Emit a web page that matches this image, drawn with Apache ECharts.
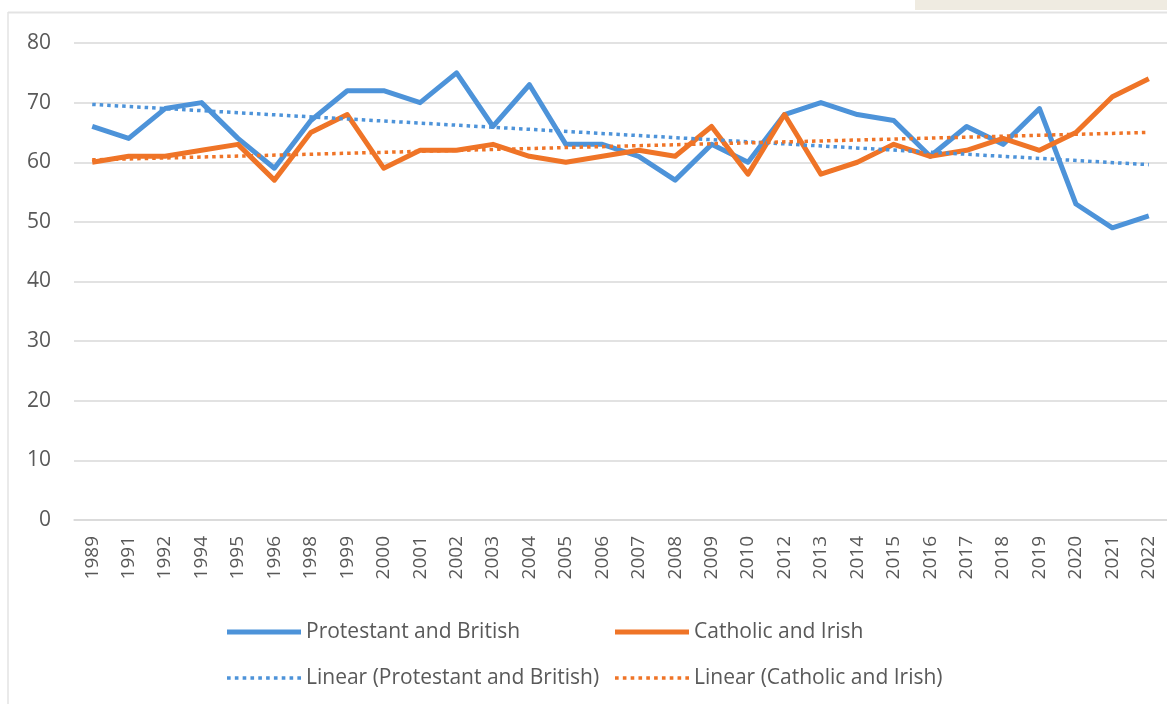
<!DOCTYPE html>
<html>
<head>
<meta charset="utf-8">
<script src="https://cdn.jsdelivr.net/npm/echarts@6/dist/echarts.min.js"></script>
<style>
  html, body { margin: 0; padding: 0; background: #fff; }
  #chart { width: 1167px; height: 704px; }
</style>
</head>
<body>
<div id="chart"></div>
<script>
const years = ["1989", "1991", "1992", "1994", "1995", "1996", "1998", "1999", "2000", "2001",
  "2002", "2003", "2004", "2005", "2006", "2007", "2008", "2009", "2010", "2012",
  "2013", "2014", "2015", "2016", "2017", "2018", "2019", "2020", "2021", "2022"];

const protestant = [66, 64, 69, 70, 64, 59, 67, 72, 72, 70,
  75, 66, 73, 63, 63, 61, 57, 63, 60, 68,
  70, 68, 67, 61, 66, 63, 69, 53, 49, 51];

const catholic = [60, 61, 61, 62, 63, 57, 65, 68, 59, 62,
  62, 63, 61, 60, 61, 62, 61, 66, 58, 68,
  58, 60, 63, 61, 62, 64, 62, 65, 71, 74];

// trendline end values (first year, last year)
const protestantTrend = [69.7, 59.6];
const catholicTrend = [60.4, 65.0];

const yTicks = { min: 0, max: 80, interval: 10 };

const blue = "#4d93d9";
const orange = "#ef7427";
const textColor = "#595959";

const endsOnly = (ends) => years.map((_, i) =>
  i === 0 ? ends[0] : (i === years.length - 1 ? ends[1] : null));

// legend swatches: a thick bar and a row of small dots
const solidIcon = "path://M0,0h74v5h-74z";
let dots = "";
for (let i = 0; i < 10; i++) dots += "M" + (i * 7.5) + ",0h3.5v3.5h-3.5z";
const dottedIcon = "path://" + dots + "M0,0h0.01v0h-0.01z";

const chart = echarts.init(document.getElementById("chart"));

let xAxis = {
  type: "category",
  data: years,
  boundaryGap: true,
  axisLine: { show: true, lineStyle: { color: "#d9d9d9", width: 1.5 } },
  axisTick: { show: false },
  axisLabel: {
    rotate: 90,
    margin: 16,
    interval: 0,
    color: textColor,
    fontFamily: "Open Sans",
    fontSize: 19,
  },
};

let yAxis = {
  type: "value",
  min: yTicks.min,
  max: yTicks.max,
  interval: yTicks.interval,
  axisLine: { show: false },
  axisTick: { show: false },
  axisLabel: {
    margin: 23,
    color: textColor,
    fontFamily: "Open Sans",
    fontSize: 21,
  },
  splitLine: { show: true, lineStyle: { color: "#d9d9d9", width: 1.5 } },
};

let series = [
  {
    name: "Protestant and British",
    type: "line",
    data: protestant,
    symbol: "none",
    color: blue,
    lineStyle: { width: 5, color: blue, join: "round" },
  },
  {
    name: "Catholic and Irish",
    type: "line",
    data: catholic,
    symbol: "none",
    color: orange,
    lineStyle: { width: 5, color: orange, join: "round" },
  },
  {
    name: "Linear (Protestant and British)",
    type: "line",
    data: endsOnly(protestantTrend),
    connectNulls: true,
    symbol: "none",
    color: blue,
    lineStyle: { width: 3.5, color: blue, type: [3.5, 4], cap: "butt" },
  },
  {
    name: "Linear (Catholic and Irish)",
    type: "line",
    data: endsOnly(catholicTrend),
    connectNulls: true,
    symbol: "none",
    color: orange,
    lineStyle: { width: 3.5, color: orange, type: [3.5, 4], cap: "butt" },
  },
];

const legendBase = {
  orient: "vertical",
  top: 615,
  itemWidth: 74,
  itemHeight: 14,
  itemGap: 22,
  selectedMode: false,
  textStyle: { color: textColor, fontFamily: "Open Sans", fontSize: 21, lineHeight: 24 },
};

let option = {
  animation: false,
  backgroundColor: "#ffffff",
  grid: { left: 74, right: -4, top: 43, bottom: 184, containLabel: false },
  legend: [
    {
      ...legendBase, left: 222,
      data: [
        { name: "Protestant and British", icon: solidIcon },
        { name: "Linear (Protestant and British)", icon: dottedIcon },
      ],
    },
    {
      ...legendBase, left: 610,
      data: [
        { name: "Catholic and Irish", icon: solidIcon },
        { name: "Linear (Catholic and Irish)", icon: dottedIcon },
      ],
    },
  ],
  graphic: [
    { type: "rect", shape: { x: 915, y: 0, width: 252, height: 10 }, style: { fill: "#efebe1" }, silent: true },
    { type: "line", shape: { x1: 8, y1: 12.5, x2: 1167, y2: 12.5 }, style: { stroke: "#e3e3e3", lineWidth: 2 }, silent: true },
    { type: "line", shape: { x1: 8, y1: 12, x2: 8, y2: 704 }, style: { stroke: "#e3e3e3", lineWidth: 1.5 }, silent: true },
  ],
  xAxis,
  yAxis,
  series,
};

chart.setOption(option, true);
</script>
</body>
</html>
